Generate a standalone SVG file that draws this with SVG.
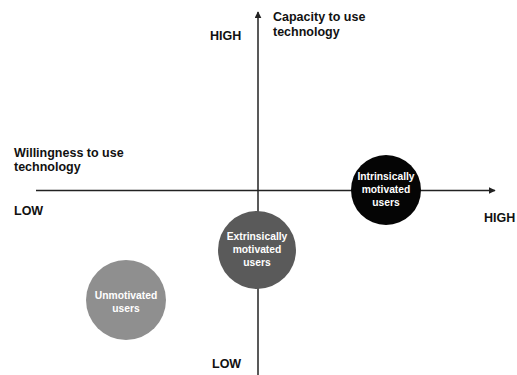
<svg xmlns="http://www.w3.org/2000/svg" width="517" height="375" viewBox="0 0 517 375">
<style>
.lbl{font-family:"Liberation Sans",Arial,sans-serif;font-weight:bold;font-size:12.5px;fill:#111}
.ct{font-family:"Liberation Sans",Arial,sans-serif;font-weight:bold;font-size:10.3px;fill:#fff;text-anchor:middle}
.axis{stroke:#222;stroke-width:1.5;fill:none}
</style>
<defs>
<marker id="arr" viewBox="0 0 10 10" refX="9" refY="5" markerWidth="7" markerHeight="7" markerUnits="userSpaceOnUse" orient="auto">
<path d="M0,0 L10,5 L0,10 z" fill="#222"/>
</marker>
</defs>
<rect width="517" height="375" fill="#fff"/>
<g id="connectors">
<line class="axis" x1="36" y1="190.5" x2="495" y2="190.5" marker-end="url(#arr)"/>
<line class="axis" x1="258" y1="375" x2="258" y2="12" marker-end="url(#arr)"/>
</g>
<g id="labels">
<text class="lbl" x="273" y="21">Capacity to use</text>
<text class="lbl" x="273" y="36">technology</text>
<text class="lbl" x="210" y="40">HIGH</text>
<text class="lbl" x="14" y="157">Willingness to use</text>
<text class="lbl" x="14" y="171">technology</text>
<text class="lbl" x="14" y="215">LOW</text>
<text class="lbl" x="484" y="222">HIGH</text>
<text class="lbl" x="212" y="368">LOW</text>
</g>
<g id="intrinsic">
<circle cx="386" cy="190" r="35" fill="#050505"/>
<text class="ct" x="386" y="180">Intrinsically</text>
<text class="ct" x="386" y="193">motivated</text>
<text class="ct" x="386" y="206">users</text>
</g>
<g id="extrinsic">
<circle cx="257" cy="250" r="39" fill="#5a5a5a"/>
<text class="ct" x="257" y="240">Extrinsically</text>
<text class="ct" x="257" y="253">motivated</text>
<text class="ct" x="257" y="266">users</text>
</g>
<g id="unmotivated">
<circle cx="126" cy="300" r="40" fill="#8f8f8f"/>
<text class="ct" x="126" y="299">Unmotivated</text>
<text class="ct" x="126" y="312">users</text>
</g>
</svg>
